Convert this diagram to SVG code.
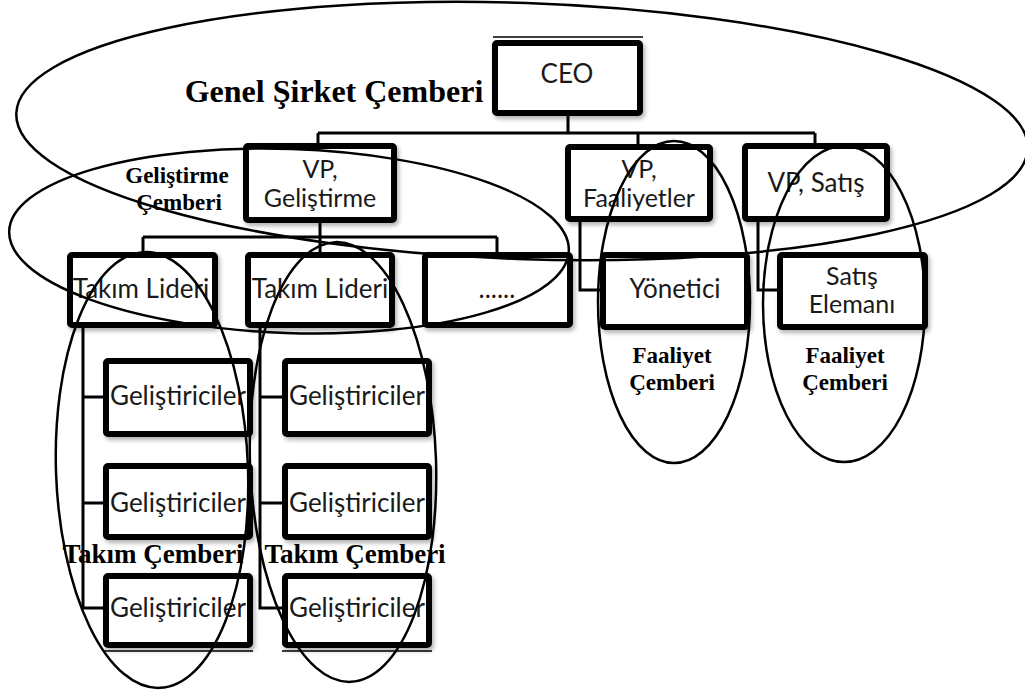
<svg xmlns="http://www.w3.org/2000/svg" width="1025" height="697" viewBox="0 0 1025 697">
  <defs>
    <filter id="sh" x="-10%" y="-10%" width="125%" height="130%">
      <feDropShadow dx="2" dy="3" stdDeviation="2" flood-color="#000" flood-opacity="0.3"/>
    </filter>
    <style>
      .box { fill: #fff; stroke: #000; stroke-width: 6; filter: url(#sh); }
      .lbl { font-family: Lato, "Open Sans", sans-serif; font-size: 26px; fill: #1a1a1a; text-anchor: middle; }
      .two { font-size: 25px; }
      .cap { font-family: "Liberation Serif", "Times New Roman", serif; font-weight: bold; fill: #000; text-anchor: middle; }
      .ring { fill: none; stroke: #000; stroke-width: 2.5; }
      .wire { fill: none; stroke: #000; stroke-width: 3; }
      .thin { fill: none; stroke: #000; stroke-width: 1.5; }
    </style>
  </defs>
  <rect width="1025" height="697" fill="#fff"/>

  <!-- org chart connectors -->
  <g id="connectors">
    <path class="wire" d="M568 116 V133 M318 133 H815 M318 133 V143 M638 133 V145 M815 133 V143"/>
    <path class="wire" d="M320 222 V237 M143 237 H497 M143 237 V252 M320 237 V252 M497 237 V252"/>
    <path class="wire" d="M580 222 V290 H600"/>
    <path class="wire" d="M758 222 V290 H777"/>
    <path class="wire" d="M83 328 V608 H103 M83 397 H103 M83 503 H103"/>
    <path class="wire" d="M260 328 V608 H282 M260 397 H282 M260 503 H282"/>
    <path class="thin" d="M493 37 H643 M103 651 H253 M282 651 H432"/>
  </g>

  <!-- top level -->
  <g id="ceo">
    <rect class="box" x="495" y="43" width="145" height="70" rx="2"/>
    <text class="lbl" x="567" y="83">CEO</text>
  </g>

  <!-- vice presidents -->
  <g id="vp-gelistirme">
    <rect class="box" x="246" y="146" width="148" height="74" rx="2"/>
    <text class="lbl two" x="320" y="178">VP,</text>
    <text class="lbl two" x="320" y="207">Geliştirme</text>
  </g>
  <g id="vp-faaliyetler">
    <rect class="box" x="568" y="147" width="142" height="72" rx="2"/>
    <text class="lbl two" x="639" y="178">VP,</text>
    <text class="lbl two" x="639" y="207">Faaliyetler</text>
  </g>
  <g id="vp-satis">
    <rect class="box" x="745" y="146" width="142" height="73" rx="2"/>
    <text class="lbl" x="816" y="192">VP, Satış</text>
  </g>

  <!-- second level -->
  <g id="takim-lideri-1">
    <rect class="box" x="70" y="255" width="145" height="70" rx="2"/>
    <text class="lbl" x="141" y="298">Takım Lideri</text>
  </g>
  <g id="takim-lideri-2">
    <rect class="box" x="248" y="255" width="144" height="70" rx="2"/>
    <text class="lbl" x="320" y="298">Takım Lideri</text>
  </g>
  <g id="takim-lideri-diger">
    <rect class="box" x="425" y="255" width="145" height="70" rx="2"/>
    <text class="lbl" x="497" y="298">......</text>
  </g>
  <g id="yonetici">
    <rect class="box" x="603" y="255" width="144" height="72" rx="2"/>
    <text class="lbl" x="675" y="298">Yönetici</text>
  </g>
  <g id="satis-elemani">
    <rect class="box" x="780" y="255" width="145" height="72" rx="2"/>
    <text class="lbl two" x="852" y="285">Satış</text>
    <text class="lbl two" x="852" y="313">Elemanı</text>
  </g>

  <!-- developers, first team -->
  <g id="gelistiriciler-1a">
    <rect class="box" x="106" y="361" width="144" height="73" rx="2"/>
    <text class="lbl" x="178" y="405">Geliştiriciler</text>
  </g>
  <g id="gelistiriciler-1b">
    <rect class="box" x="106" y="466" width="144" height="71" rx="2"/>
    <text class="lbl" x="178" y="512">Geliştiriciler</text>
  </g>
  <g id="gelistiriciler-1c">
    <rect class="box" x="106" y="576" width="144" height="69" rx="2"/>
    <text class="lbl" x="178" y="617">Geliştiriciler</text>
  </g>

  <!-- developers, second team -->
  <g id="gelistiriciler-2a">
    <rect class="box" x="285" y="361" width="144" height="73" rx="2"/>
    <text class="lbl" x="357" y="405">Geliştiriciler</text>
  </g>
  <g id="gelistiriciler-2b">
    <rect class="box" x="285" y="466" width="144" height="71" rx="2"/>
    <text class="lbl" x="357" y="512">Geliştiriciler</text>
  </g>
  <g id="gelistiriciler-2c">
    <rect class="box" x="285" y="576" width="144" height="69" rx="2"/>
    <text class="lbl" x="357" y="617">Geliştiriciler</text>
  </g>

  <!-- circles drawn over the chart -->
  <g id="circles">
    <ellipse class="ring" cx="522" cy="131" rx="506" ry="128" transform="rotate(2 522 131)"/>
    <ellipse class="ring" cx="289" cy="241" rx="280" ry="92" transform="rotate(2 289 241)"/>
    <ellipse class="ring" cx="674" cy="302" rx="76" ry="161"/>
    <ellipse class="ring" cx="844" cy="304" rx="81" ry="158"/>
    <ellipse class="ring" cx="152" cy="470" rx="96" ry="218" transform="rotate(-2 152 470)"/>
    <ellipse class="ring" cx="343" cy="462" rx="93" ry="220" transform="rotate(-2 343 462)"/>
  </g>

  <!-- circle names -->
  <g id="circle-labels">
    <text class="cap" x="334" y="102" font-size="32">Genel Şirket Çemberi</text>
    <text class="cap" x="177" y="183" font-size="23">Geliştirme</text>
    <text class="cap" x="179" y="210" font-size="23">Çemberi</text>
    <text class="cap" x="672" y="363" font-size="23">Faaliyet</text>
    <text class="cap" x="672" y="390" font-size="23">Çemberi</text>
    <text class="cap" x="845" y="363" font-size="23">Faaliyet</text>
    <text class="cap" x="845" y="390" font-size="23">Çemberi</text>
    <text class="cap" x="153" y="563" font-size="27">Takım Çemberi</text>
    <text class="cap" x="355" y="563" font-size="27">Takım Çemberi</text>
  </g>
</svg>
